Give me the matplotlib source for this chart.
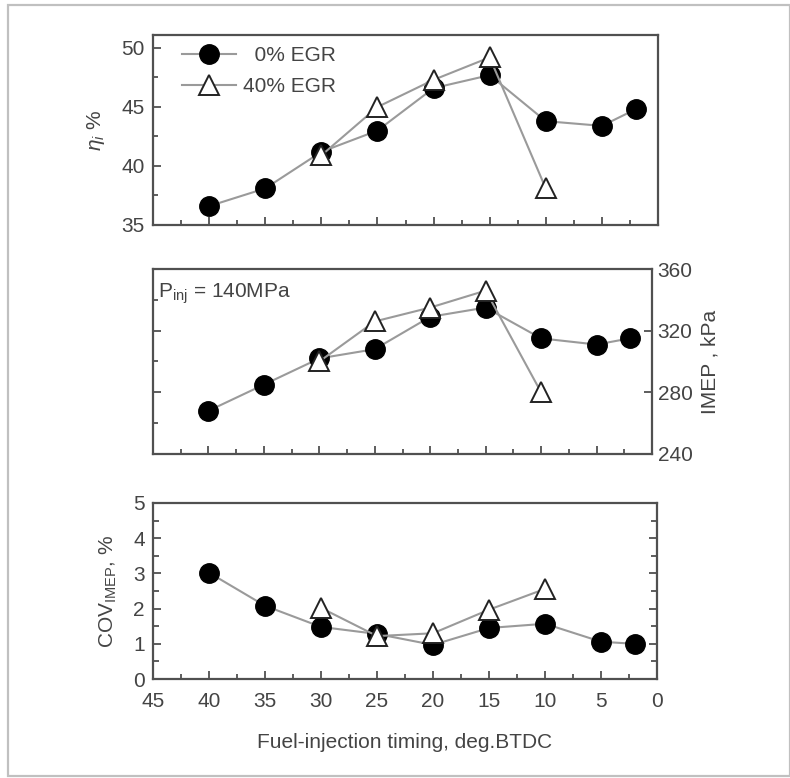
import matplotlib
matplotlib.use("Agg")
import matplotlib.pyplot as plt
from matplotlib.patches import Rectangle
from matplotlib.ticker import MultipleLocator

plt.rcParams['font.family'] = ['Liberation Sans', 'DejaVu Sans']
plt.rcParams['mathtext.fontset'] = 'custom'
plt.rcParams['mathtext.rm'] = 'Liberation Sans'
plt.rcParams['mathtext.it'] = 'Liberation Sans:italic'

# injection timing, deg BTDC
timing_0 = [40, 35, 30, 25, 20, 15, 10, 5, 2]
timing_40 = [30, 25, 20, 15, 10]

# indicated thermal efficiency, %
eta_0 = [36.6, 38.1, 41.2, 43.0, 46.6, 47.7, 43.8, 43.4, 44.8]
eta_40 = [40.9, 45.0, 47.3, 49.2, 38.1]

# IMEP, kPa
imep_0 = [268, 285, 302, 308, 329, 335, 315, 311, 315]
imep_40 = [300, 326, 335, 346, 280]

# COV of IMEP, %
cov_0 = [3.02, 2.08, 1.48, 1.28, 0.97, 1.45, 1.57, 1.06, 1.0]
cov_40 = [2.02, 1.22, 1.30, 1.97, 2.56]

text_c = '#444444'
spine_c = '#505050'
line_c = '#9a9a9a'
fs = 15

fig = plt.figure(figsize=(7.9, 7.78), dpi=100)
fig.patch.set_facecolor('white')

# scanned frame around the figure
fig.add_artist(Rectangle((0.010, 0.003), 0.99, 0.990, transform=fig.transFigure,
                         fill=False, edgecolor='#c0c0c0', lw=1.6))

ax1 = fig.add_axes([0.1937, 0.7108, 0.6392, 0.2442])
ax2 = fig.add_axes([0.1937, 0.4165, 0.6316, 0.2377])
ax3 = fig.add_axes([0.1937, 0.1272, 0.6380, 0.2263])


def draw(ax, y0, y40):
    ax.plot(timing_0, y0, color=line_c, lw=1.5, marker='o', ms=14,
            mfc='black', mec='black', label='  0% EGR', zorder=3)
    ax.plot(timing_40, y40, color=line_c, lw=1.5, marker='^', ms=15,
            mfc='white', mec='#222222', mew=1.4, label='40% EGR', zorder=4)
    ax.set_xlim(45, 0)
    ax.xaxis.set_major_locator(MultipleLocator(5))
    ax.xaxis.set_minor_locator(MultipleLocator(2.5))
    for s in ax.spines.values():
        s.set_color(spine_c)
        s.set_linewidth(1.6)
    ax.tick_params(which='both', direction='in', colors=spine_c, width=1.3,
                   labelcolor=text_c, labelsize=fs, top=False)
    ax.tick_params(which='major', length=6)
    ax.tick_params(which='minor', length=3.5)
    ax.tick_params(axis='y', pad=6)
    ax.tick_params(axis='x', pad=9)


# top: efficiency
draw(ax1, eta_0, eta_40)
ax1.set_ylim(35, 51.1)
ax1.yaxis.set_major_locator(MultipleLocator(5))
ax1.yaxis.set_minor_locator(MultipleLocator(2.5))
ax1.tick_params(labelbottom=False, right=False)
ax1.set_ylabel(r'$\eta_i$ %', color=text_c, fontsize=fs, labelpad=10)
leg = ax1.legend(loc='upper left', bbox_to_anchor=(0.035, 1.0), frameon=False,
                 fontsize=fs, handlelength=2.6, handletextpad=0.3,
                 borderaxespad=0.15, labelspacing=0.55)
for t in leg.get_texts():
    t.set_color(text_c)

# middle: IMEP
draw(ax2, imep_0, imep_40)
ax2.set_ylim(240, 360)
ax2.yaxis.set_major_locator(MultipleLocator(40))
ax2.yaxis.set_minor_locator(MultipleLocator(20))
ax2.tick_params(labelbottom=False, left=True, right=True,
                labelleft=False, labelright=True)
ax2.tick_params(axis='y', pad=4)
ax2.yaxis.set_label_position('right')
ax2.set_ylabel('IMEP , kPa', color=text_c, fontsize=fs, labelpad=6)
ax2.text(0.01, 0.93, r'P$_{\rm inj}$ = 140MPa', transform=ax2.transAxes,
         color=text_c, fontsize=fs, va='top', ha='left')

# bottom: COV
draw(ax3, cov_0, cov_40)
ax3.set_ylim(0, 5)
ax3.yaxis.set_major_locator(MultipleLocator(1))
ax3.yaxis.set_minor_locator(MultipleLocator(0.5))
ax3.tick_params(axis='y', which='both', right=True)
ax3.tick_params(axis='y', which='minor', length=4.5)
ax3.set_ylabel(r'COV$_{\rm IMEP}$, %', color=text_c, fontsize=fs, labelpad=10)
ax3.set_xlabel('Fuel-injection timing, deg.BTDC', color=text_c, fontsize=fs,
               labelpad=16)

fig.savefig('out.png', dpi=100, facecolor='white')
